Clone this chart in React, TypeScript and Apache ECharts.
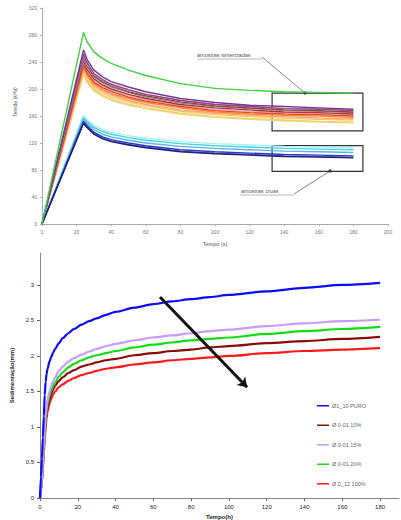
import React, { useEffect, useRef } from "react";
import * as echarts from "echarts";

// ---------- top chart data ----------
const topTime = [0, 24, 26, 30, 35, 40, 50, 60, 80, 100, 120, 140, 160, 180];
const topXTicks = [0, 20, 40, 60, 80, 100, 120, 140, 160, 180, 200];
const topYTicks = [0, 40, 80, 120, 160, 200, 240, 280, 320];

const sGreen = [0, 284, 270, 255, 245, 238, 228, 220, 208, 201, 198, 196, 195, 194];
const sPurple = [0, 258, 244, 228, 218, 211, 203, 196, 186, 180, 176, 174, 172, 170];
const sViolet = [0, 250, 237, 222, 213, 206, 198, 192, 183, 177, 174, 171, 170, 168];
const sMagenta = [0, 252, 239, 223, 214, 207, 199, 192, 183, 177, 174, 171, 170, 168];
const sBrown = [0, 248, 235, 220, 211, 205, 196, 190, 181, 175, 172, 169, 168, 166];
const sGray = [0, 245, 232, 218, 209, 203, 195, 188, 179, 174, 171, 168, 167, 165];
const sDarkRed = [0, 242, 229, 215, 206, 200, 192, 186, 177, 172, 169, 166, 165, 163];
const sPink = [0, 238, 226, 212, 204, 198, 190, 184, 176, 170, 167, 165, 164, 162];
const sRed = [0, 236, 224, 210, 202, 196, 188, 182, 174, 168, 165, 163, 162, 160];
const sOrange = [0, 233, 221, 208, 199, 193, 186, 180, 172, 166, 163, 161, 160, 158];
const sSalmon = [0, 230, 218, 205, 197, 191, 183, 177, 169, 164, 161, 159, 157, 156];
const sLightOrange = [0, 227, 215, 202, 194, 188, 181, 175, 167, 162, 159, 157, 155, 154];
const sYellow = [0, 224, 212, 199, 191, 185, 178, 172, 164, 159, 156, 154, 152, 151];
const sTan = [0, 221, 210, 197, 189, 183, 176, 171, 163, 158, 155, 153, 151, 150];

const sNavy = [0, 149, 143, 133, 126, 122, 117, 113, 107, 104, 102, 100, 99, 98];
const sBlue = [0, 152, 146, 136, 129, 125, 120, 116, 110, 107, 105, 103, 102, 101];
const sSlate = [0, 150, 144, 135, 128, 123, 118, 114, 108, 105, 103, 101, 100, 99];
const sSky = [0, 155, 149, 140, 133, 129, 124, 120, 115, 112, 110, 108, 107, 106];
const sCyan = [0, 158, 152, 143, 137, 133, 128, 124, 119, 116, 114, 112, 111, 110];
const sLightCyan = [0, 161, 155, 146, 140, 136, 131, 127, 122, 119, 117, 115, 114, 113];

const topSeriesDefs: [string, number[], string][] = [
  ["tan", sTan, "#e8cf9f"],
  ["yellow", sYellow, "#f3d64a"],
  ["lightorange", sLightOrange, "#ffc468"],
  ["salmon", sSalmon, "#f4a582"],
  ["orange", sOrange, "#ff8a1f"],
  ["pink", sPink, "#ffa7bb"],
  ["red", sRed, "#e5452a"],
  ["darkred", sDarkRed, "#b03535"],
  ["gray", sGray, "#8c8c8c"],
  ["brown", sBrown, "#8b4a2b"],
  ["violet", sViolet, "#c49ae3"],
  ["magenta", sMagenta, "#a2407e"],
  ["purple", sPurple, "#6f3a98"],
  ["lightcyan", sLightCyan, "#aaeef6"],
  ["cyan", sCyan, "#3fd6e2"],
  ["sky", sSky, "#5ab2e6"],
  ["slate", sSlate, "#5a5ab8"],
  ["blue", sBlue, "#2a3cc8"],
  ["navy", sNavy, "#1f1f78"],
  ["green", sGreen, "#3fd43f"],
];

// ---------- bottom chart data ----------
const botTime = [0, 0.5, 1, 1.5, 2, 2.5, 3, 3.5, 4, 5, 6, 7, 8, 10, 12, 15, 18, 22, 26, 30, 35, 40, 50, 60, 70, 80, 90, 100, 120, 140, 160, 180];
const botXTicks = [0, 20, 40, 60, 80, 100, 120, 140, 160, 180];
const botYTicks = [0, 0.5, 1, 1.5, 2, 2.5, 3];

const legendNames = ["Ø1_10 PURO", "Ø 0-01 10%", "Ø 0-01 15%", "Ø 0-01 20%", "Ø 0_12 100%"];
const vPuro = [0, 0.3, 0.55, 0.85, 1.15, 1.45, 1.64, 1.75, 1.82, 1.92, 1.99, 2.05, 2.1, 2.18, 2.25, 2.32, 2.38, 2.44, 2.49, 2.53, 2.58, 2.62, 2.68, 2.73, 2.77, 2.8, 2.83, 2.86, 2.91, 2.96, 3.0, 3.03];
const v10 = [0, 0.12, 0.25, 0.45, 0.68, 0.9, 1.08, 1.2, 1.28, 1.39, 1.47, 1.53, 1.58, 1.65, 1.7, 1.76, 1.8, 1.85, 1.88, 1.91, 1.94, 1.96, 2.01, 2.04, 2.07, 2.09, 2.12, 2.14, 2.18, 2.21, 2.24, 2.27];
const v15 = [0, 0.12, 0.25, 0.45, 0.7, 0.95, 1.15, 1.28, 1.38, 1.5, 1.58, 1.65, 1.7, 1.79, 1.85, 1.92, 1.97, 2.02, 2.06, 2.1, 2.14, 2.17, 2.22, 2.26, 2.29, 2.32, 2.35, 2.37, 2.42, 2.46, 2.49, 2.51];
const v20 = [0, 0.12, 0.25, 0.45, 0.7, 0.93, 1.12, 1.24, 1.33, 1.44, 1.52, 1.58, 1.63, 1.71, 1.77, 1.84, 1.89, 1.94, 1.98, 2.01, 2.04, 2.07, 2.12, 2.16, 2.19, 2.22, 2.24, 2.26, 2.31, 2.35, 2.38, 2.41];
const v100 = [0, 0.1, 0.22, 0.4, 0.62, 0.83, 1.0, 1.13, 1.22, 1.33, 1.4, 1.46, 1.5, 1.56, 1.6, 1.65, 1.69, 1.73, 1.76, 1.79, 1.82, 1.84, 1.88, 1.91, 1.94, 1.96, 1.98, 2.0, 2.04, 2.07, 2.09, 2.11];
const botColors = ["#0a0aff", "#8a0a0a", "#c89cff", "#12dd12", "#ff1a1a"];
const botValues = [vPuro, v10, v15, v20, v100];
const botDrawOrder = [4, 1, 3, 2, 0];

const zip = (xs: number[], ys: number[]) => xs.map((x, i) => [x, ys[i]]);

export default function App() {
  const ref = useRef<HTMLDivElement>(null);
  useEffect(() => {
    document.body.style.margin = "0";
    if (!ref.current) return;
    const chart = echarts.init(ref.current, null, { renderer: "svg" });
    const font = "Liberation Sans, Arial, sans-serif";

    const topSeries: any[] = topSeriesDefs.map(([name, vals, color]) => ({
      type: "line",
      name,
      xAxisIndex: 0,
      yAxisIndex: 0,
      data: zip(topTime, vals),
      showSymbol: false,
      lineStyle: { width: 1.4, color },
      itemStyle: { color },
      z: 2,
    }));
    topSeries[topSeries.length - 1].markArea = {
      silent: true,
      itemStyle: { color: "rgba(0,0,0,0)", borderColor: "#333", borderWidth: 1.2 },
      data: [
        [{ coord: [133, 194] }, { coord: [185.5, 138] }],
        [{ coord: [133, 116] }, { coord: [185.5, 78] }],
      ],
    };

    const botSeries: any[] = botDrawOrder.map((i) => ({
      type: "line",
      name: legendNames[i],
      xAxisIndex: 1,
      yAxisIndex: 1,
      data: zip(botTime, botValues[i]),
      showSymbol: false,
      smooth: 0.3,
      smoothMonotone: "x",
      lineStyle: { width: 2.2, color: botColors[i] },
      itemStyle: { color: botColors[i] },
      z: 3,
    }));
    botSeries[botSeries.length - 1].markLine = {
      silent: true,
      symbol: ["none", "arrow"],
      symbolSize: 9,
      label: { show: false },
      lineStyle: { color: "#111", width: 3, type: "solid" },
      data: [[{ coord: [63.5, 2.83] }, { coord: [109.6, 1.56] }]],
    };

    const smallGray = { fontSize: 5, color: "#777", fontFamily: font };
    const smallBlack = { fontSize: 6, color: "#222", fontFamily: font };

    chart.setOption({
      animation: false,
      textStyle: { fontFamily: font },
      grid: [
        { left: 42, top: 8, width: 346, height: 216, outerBoundsMode: "none", containLabel: false },
        { left: 40, top: 253, right: 2, bottom: 22, outerBoundsMode: "none", containLabel: false },
      ],
      xAxis: [
        {
          type: "value",
          gridIndex: 0,
          min: topXTicks[0],
          max: topXTicks[topXTicks.length - 1],
          interval: 20,
          splitLine: { show: false },
          axisLine: { lineStyle: { color: "#aaa", width: 1 } },
          axisTick: { length: 2, lineStyle: { color: "#aaa" } },
          axisLabel: { ...smallGray, margin: 5 },
          name: "Tempo (s)",
          nameLocation: "middle",
          nameGap: 17,
          nameTextStyle: { ...smallGray, fontSize: 5.5, color: "#555" },
        },
        {
          type: "value",
          gridIndex: 1,
          min: botXTicks[0],
          max: 190,
          interval: 20,
          splitLine: { show: false },
          axisLine: { lineStyle: { color: "#888", width: 1 } },
          axisTick: { length: 3, lineStyle: { color: "#666" } },
          axisLabel: { ...smallBlack, margin: 6, showMaxLabel: false },
          name: "Tempo(h)",
          nameLocation: "middle",
          nameGap: 16,
          nameTextStyle: { ...smallBlack, fontWeight: "bold" },
        },
      ],
      yAxis: [
        {
          type: "value",
          gridIndex: 0,
          min: topYTicks[0],
          max: topYTicks[topYTicks.length - 1],
          interval: 40,
          splitLine: { show: false },
          axisLine: { show: true, lineStyle: { color: "#aaa", width: 1 } },
          axisTick: { show: true, length: 2, lineStyle: { color: "#aaa" } },
          axisLabel: { ...smallGray, margin: 5 },
          name: "Tensão (kPa)",
          nameLocation: "middle",
          nameRotate: 90,
          nameGap: 15,
          nameTextStyle: { ...smallGray, fontSize: 5, color: "#555", padding: [0, 0, 0, 28] },
        },
        {
          type: "value",
          gridIndex: 1,
          min: botYTicks[0],
          max: 3.45,
          interval: 0.5,
          splitLine: { show: false },
          axisLine: { show: true, lineStyle: { color: "#888", width: 1 } },
          axisTick: { show: true, length: 3, lineStyle: { color: "#666" } },
          axisLabel: { ...smallBlack, margin: 6, showMaxLabel: false },
          name: "Sedimentação(mm)",
          nameLocation: "middle",
          nameRotate: 90,
          nameGap: 19,
          nameTextStyle: { ...smallBlack, fontWeight: "bold" },
        },
      ],
      legend: {
        data: legendNames,
        orient: "vertical",
        left: 312,
        top: 397,
        icon: "rect",
        itemWidth: 12,
        itemHeight: 1.5,
        itemGap: 12,
        textStyle: { fontSize: 5.5, color: "#666", lineHeight: 7.5, fontFamily: font, padding: [0, 0, 0, -2] },
      },
      graphic: [
        { type: "text", left: 197, top: 52, style: { text: "amostras sinterizadas", fontSize: 5.5, fill: "#555", fontFamily: font } },
        { type: "line", shape: { x1: 197, y1: 59, x2: 262, y2: 59 }, style: { stroke: "#888", lineWidth: 0.6 } },
        { type: "line", shape: { x1: 262, y1: 57, x2: 305, y2: 93 }, style: { stroke: "#666", lineWidth: 0.8 } },
        { type: "circle", shape: { cx: 305, cy: 93, r: 1.6 }, style: { fill: "#333" } },
        { type: "text", left: 241, top: 188, style: { text: "amostras cruas", fontSize: 5.5, fill: "#555", fontFamily: font } },
        { type: "line", shape: { x1: 240, y1: 195, x2: 294, y2: 195 }, style: { stroke: "#888", lineWidth: 0.6 } },
        { type: "line", shape: { x1: 294, y1: 194, x2: 330, y2: 171 }, style: { stroke: "#666", lineWidth: 0.8 } },
        { type: "circle", shape: { cx: 330, cy: 171, r: 1.6 }, style: { fill: "#333" } },
      ],
      series: [...topSeries, ...botSeries],
    });
    return () => chart.dispose();
  }, []);
  return <div ref={ref} style={{ width: 401, height: 520 }} />;
}
